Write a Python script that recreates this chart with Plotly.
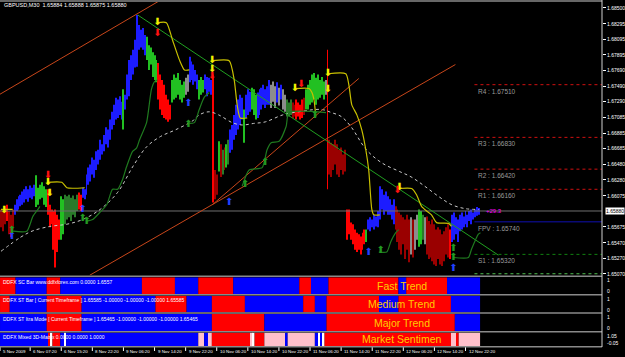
import plotly.graph_objects as go

# ---------------- price bars (GBPUSD M30) ----------------
HIGH = [1.6590,1.6588,1.6593,1.6596,1.6588,1.6583,1.6590,1.6596,1.6603,1.6607,
        1.6609,1.6613,1.6616,1.6620,1.6616,1.6621,1.6618,1.6622,1.6634,1.6618,
        1.6622,1.6625,1.6620,1.6616,1.6616,1.6596,1.6590,1.6588,1.6590,1.6583,
        1.6577,1.6607,1.6603,1.6609,1.6607,1.6609,1.6605,1.6608,1.6603,1.6609,
        1.6612,1.6609,1.6618,1.6616,1.6635,1.6644,1.6648,1.6657,1.6654,1.6665,
        1.6667,1.6680,1.6674,1.6686,1.6696,1.6693,1.6706,1.6716,1.6725,1.6734,
        1.6732,1.6736,1.6729,1.6745,1.6738,1.6764,1.6783,1.6789,1.6796,1.6809,
        1.6841,1.6828,1.6822,1.6824,1.6815,1.6813,1.6802,1.6799,1.6793,1.6789,
        1.6783,1.6779,1.6764,1.6757,1.6751,1.6738,1.6732,1.6725,1.6757,1.6764,
        1.6760,1.6766,1.6757,1.6751,1.6755,1.6760,1.6764,1.6787,1.6781,1.6777,
        1.6770,1.6764,1.6757,1.6761,1.6757,1.6764,1.6761,1.6760,1.6757,1.6764,
        1.6641,1.6635,1.6678,1.6674,1.6667,1.6670,1.6674,1.6680,1.6693,1.6699,
        1.6712,1.6725,1.6732,1.6738,1.6734,1.6719,1.6738,1.6745,1.6742,1.6747,
        1.6745,1.6738,1.6741,1.6745,1.6747,1.6751,1.6745,1.6749,1.6757,1.6751,
        1.6755,1.6749,1.6754,1.6747,1.6751,1.6745,1.6738,1.6732,1.6728,1.6732,
        1.6728,1.6725,1.6732,1.6728,1.6725,1.6732,1.6734,1.6745,1.6751,1.6757,
        1.6764,1.6766,1.6760,1.6764,1.6757,1.6761,1.6755,1.6757,1.6796,1.6680,
        1.6676,1.6674,1.6680,1.6674,1.6667,1.6670,1.6661,1.6667,1.6590,1.6590,
        1.6573,1.6571,1.6564,1.6560,1.6558,1.6555,1.6560,1.6564,1.6564,1.6577,
        1.6580,1.6577,1.6583,1.6581,1.6588,1.6620,1.6616,1.6609,1.6613,1.6607,
        1.6603,1.6596,1.6603,1.6594,1.6590,1.6586,1.6583,1.6580,1.6577,1.6583,
        1.6577,1.6580,1.6577,1.6577,1.6583,1.6590,1.6588,1.6583,1.6580,1.6581,
        1.6575,1.6571,1.6577,1.6571,1.6564,1.6567,1.6564,1.6558,1.6562,1.6567,
        1.6571,1.6564,1.6583,1.6586,1.6580,1.6577,1.6583,1.6586,1.6581,1.6588,
        1.6583,1.6588,1.6590,1.6586,1.6590,1.6593,1.6592]
LOW = [1.6567,1.6562,1.6571,1.6575,1.6558,1.6554,1.6564,1.6583,1.6588,1.6590,
       1.6594,1.6596,1.6599,1.6603,1.6600,1.6605,1.6603,1.6607,1.6593,1.6596,
       1.6603,1.6605,1.6596,1.6593,1.6583,1.6567,1.6571,1.6538,1.6515,1.6535,
       1.6551,1.6551,1.6558,1.6571,1.6577,1.6580,1.6575,1.6583,1.6580,1.6588,
       1.6590,1.6588,1.6605,1.6603,1.6609,1.6622,1.6626,1.6635,1.6631,1.6641,
       1.6648,1.6654,1.6661,1.6665,1.6674,1.6670,1.6680,1.6693,1.6699,1.6706,
       1.6708,1.6712,1.6706,1.6693,1.6719,1.6732,1.6736,1.6757,1.6764,1.6773,
       1.6774,1.6796,1.6799,1.6796,1.6789,1.6783,1.6770,1.6777,1.6761,1.6757,
       1.6754,1.6732,1.6719,1.6712,1.6708,1.6706,1.6703,1.6706,1.6728,1.6732,
       1.6734,1.6738,1.6732,1.6728,1.6734,1.6738,1.6742,1.6754,1.6757,1.6751,
       1.6755,1.6745,1.6732,1.6738,1.6741,1.6745,1.6736,1.6742,1.6738,1.6599,
       1.6603,1.6609,1.6639,1.6632,1.6635,1.6641,1.6644,1.6648,1.6663,1.6667,
       1.6680,1.6686,1.6693,1.6699,1.6706,1.6676,1.6708,1.6712,1.6716,1.6719,
       1.6712,1.6706,1.6708,1.6712,1.6719,1.6725,1.6721,1.6725,1.6725,1.6721,
       1.6729,1.6721,1.6728,1.6724,1.6732,1.6719,1.6716,1.6710,1.6710,1.6712,
       1.6708,1.6710,1.6706,1.6710,1.6706,1.6708,1.6712,1.6719,1.6719,1.6725,
       1.6728,1.6732,1.6725,1.6732,1.6734,1.6738,1.6732,1.6738,1.6616,1.6635,
       1.6632,1.6641,1.6648,1.6635,1.6632,1.6641,1.6635,1.6639,1.6551,1.6558,
       1.6551,1.6545,1.6538,1.6535,1.6538,1.6532,1.6538,1.6545,1.6548,1.6564,
       1.6562,1.6567,1.6564,1.6568,1.6567,1.6577,1.6590,1.6583,1.6588,1.6583,
       1.6583,1.6577,1.6571,1.6564,1.6548,1.6538,1.6532,1.6545,1.6526,1.6538,
       1.6522,1.6532,1.6528,1.6538,1.6551,1.6542,1.6545,1.6551,1.6545,1.6532,
       1.6526,1.6528,1.6523,1.6519,1.6517,1.6526,1.6519,1.6517,1.6523,1.6532,
       1.6528,1.6526,1.6548,1.6551,1.6558,1.6548,1.6562,1.6564,1.6567,1.6571,
       1.6567,1.6575,1.6571,1.6577,1.6580,1.6582,1.6583]
# bar colour codes, run-length: B blue, G green, R red, E dark red, D dark green, S grey
COLOR_RUNS = [("E",3),("R",1),("E",3),("B",11),("G",6),("R",7),("G",2),("D",7),("R",2),("B",21),
              ("G",1),("B",11),("G",6),("R",7),("G",7),("S",2),("B",5),("G",3),("B",4),("R",1),
              ("E",2),("G",1),("E",1),("D",1),("E",1),("G",1),("D",1),("B",7),("G",1),("B",3),
              ("G",3),("B",7),("S",3),("B",1),("S",1),("B",1),("S",2),("D",3),("E",2),("R",4),
              ("E",1),("G",10),("S",1),("R",1),("E",9),("R",10),("G",1),("B",14),("E",8),("S",1),
              ("E",1),("S",2),("G",2),("D",1),("S",1),("E",12),("R",1),("B",15)]
BAR_COLORS = {"B": "#1c1cff", "G": "#22c022", "R": "#ff0000", "E": "#9a0000", "D": "#2a7a2a", "S": "#8c8c8c"}

CLOSE = 1.65880

# ---------------- indicator lines (bar index, price) ----------------
MA_X = [0,10,16,25,34,42,51,60,68,75,82,90,99,102,107,112,119,124,130,136,145,153,165,170,175,180,188,196,205,211,218,225,232,239,246]
MA_Y = [1.6536,1.6554,1.6562,1.6568,1.6571,1.6577,1.6590,1.6612,1.6646,1.6671,1.6684,1.6693,1.6705,1.6712,1.6716,
        1.6712,1.6702,1.6699,1.6701,1.6703,1.6712,1.6716,1.6719,1.6715,1.6710,1.6697,1.6667,1.6650,1.6639,1.6632,
        1.6620,1.6607,1.6596,1.6591,1.6590]
YELLOW_X = [0,6,None, 23.6,31.3,33.9,43.1,None, 80.5,85.1,88.2,91.8,94.4,96.9,None,
            108.7,117.4,120,121.5,123.1,126.7,None, 151.3,158.5,160,161,162,None,
            168.2,177.4,180.5,183.1,185.6,187.7,189.2,190.8,191.8,194.9,None,
            204.6,211.3,213.8,216.4,219,221.5,224.1,230.3,231.8]
YELLOW_Y = [1.6590,1.6590,None, 1.6625,1.6625,1.6618,1.6618,None, 1.6831,1.6831,1.6809,1.6783,1.6770,1.6770,None,
            1.6782,1.6782,1.6757,1.6725,1.6708,1.6708,None, 1.6746,1.6746,1.6741,1.6732,1.6710,None,
            1.6765,1.6765,1.6725,1.6712,1.6693,1.6667,1.6641,1.6590,1.6583,1.6583,None,
            1.6617,1.6617,1.6609,1.6594,1.6588,1.6583,1.6573,1.6572,1.6568]
DGREEN_X = [6.2,13.3,16.4,19,20,None,
            44.1,47.2,50.8,54.4,57.4,60,62.6,64.6,67.7,69.7,71.3,74.9,77.4,79,80.5,None,
            96.9,99.5,102,104.6,107.2,None,
            124.1,127.7,134.4,136.9,139,143.1,146.7,148.2,167.2,None,
            194.4,198.5,200.5,203.1,204.6,None,
            232.8,240.5,242,245.6,246.7]
DGREEN_Y = [1.6562,1.6562,1.6581,1.6590,1.6594,None,
            1.6575,1.6577,1.6586,1.6596,1.6616,1.6616,1.6629,1.6645,1.6665,1.6669,1.6680,1.6702,1.6745,1.6755,1.6757,None,
            1.6701,1.6702,1.6719,1.6735,1.6741,None,
            1.6620,1.6641,1.6644,1.6667,1.6676,1.6678,1.6697,1.6715,1.6715,None,
            1.6535,1.6535,1.6548,1.6560,1.6564,None,
            1.6528,1.6528,1.6538,1.6558,1.6560]
# trend lines: (bar0, price0, bar1, price1)
ORANGE_LINES = [(-1, 1.6738, 82, 1.6860), (45.6, 1.6505, 233.8, 1.6777), (108.7, 1.6596, 184.1, 1.6759)]
GREEN_LINE = (70.3, 1.6841, 255.9, 1.6531)

# ---------------- signal arrows ----------------
YELLOW_DN_X = [1.6, 24.1, 25.1, 80.5, 108.7, 108.7, 151.3, 168.2, 168.2, 205]
YELLOW_DN_Y = [1.6588, 1.6625, 1.6611, 1.6831, 1.6782, 1.6770, 1.6746, 1.6765, 1.6745, 1.6618]
RED_DN_X = [24.1, 80.5, 108.7, 154.4, 204]
RED_DN_Y = [1.6634, 1.6817, 1.6761, 1.6751, 1.6614]
BLUE_UP_X = [5.6, 42, 96.4, 117.4, 189.2, 232.8]
BLUE_UP_Y = [1.6555, 1.6590, 1.6727, 1.6599, 1.6534, 1.6514]
GREEN_UP_X = [5.6, 42, 44.1, 96.4, 125.6, 135.9, 161.5, 195.4, 232.8, 232.8]
GREEN_UP_Y = [1.6563, 1.6578, 1.6575, 1.6699, 1.6622, 1.6650, 1.6711, 1.6537, 1.6540, 1.6528]

# ---------------- pivot levels ----------------
PIVOT_NAMES = ["R4", "R3", "R2", "R1", "FPV", "S1", "S2"]
PIVOT_VALUES = [1.67510, 1.66830, 1.66420, 1.66160, 1.65740, 1.65320, 1.65070]
PIVOT_START = 243.6

# ---------------- axes ----------------
PRICE_TICKS = [1.68500, 1.68295, 1.68095, 1.67895, 1.67690, 1.67490, 1.67290, 1.67085, 1.66885,
               1.66685, 1.66480, 1.66280, 1.66075, 1.65675, 1.65470, 1.65270, 1.65070]
TIME_TICKS = [-0.5, 15, 31, 47, 63, 79, 95, 111, 127, 143, 159, 175, 191, 207, 223, 239]
TIME_LABELS = ["5 Nov 2009", "6 Nov 07:20", "6 Nov 15:20", "8 Nov 22:20", "9 Nov 06:20", "9 Nov 14:20",
               "9 Nov 22:20", "10 Nov 06:20", "10 Nov 14:20", "10 Nov 22:20", "11 Nov 06:20", "11 Nov 14:20",
               "11 Nov 22:20", "12 Nov 06:20", "12 Nov 14:20", "12 Nov 22:20"]

# ---------------- indicator panels (run-length per bar) ----------------
PANEL_FAST = [("R",8),("B",16),("R",7),("B",42),("R",17),("B",12),("R",18),("B",34),("R",6),("B",9),("R",36),("B",4),("R",21),("B",17)]
PANEL_MEDIUM = [("R",5),("B",19),("R",18),("B",38),("R",16),("B",13),("R",17),("B",30),("R",6),("B",6),("R",27),("B",10),("R",27),("B",15)]
PANEL_MAJOR = [("B",24),("R",18),("B",67),("R",27),("B",32),("R",66),("B",13)]
PANEL_SENTIMENT = [("B",25),("R",1),("W",1),("R",4),("B",2),("W",1),("B",68),("P",3),("B",2),("P",2),("R",20),("P",1),("W",1),
                   ("R",5),("P",11),("B",1),("P",14),("B",2),("W",1),("B",1),("W",1),("R",65),("P",3),("R",1),("P",11)]
PANEL_COLORS = {"R": "#ff0000", "B": "#0000ff", "P": "#ffc0cb", "W": "#ffffff"}
PANEL_TITLES = ["DDFX SC Bar www.ddfxforex.com 0.0000 1.6557",
                "DDFX ST Bar [ Current Timeframe ] 1.65585 -1.00000 -1.00000 -1.00000 1.65585",
                "DDFX ST Itra Mode [ Current Timeframe ] 1.65465 -1.00000 -1.00000 -1.00000 1.65465",
                "DDFX Mixed 3D-Matrix 0.0000 0.0000 1.0000"]
PANEL_NAMES = ["Fast Trend", "Medium Trend", "Major Trend", "Market Sentimen"]
PANEL_SCALE = [("1", "0"), ("1", "0"), ("1", "0"), ("1.05", "-0.05")]

W, H = 625, 357
PLOT_W = 604
def py(px):  # paper y from pixel row
    return 1 - px / H

MAIN_DOM = [py(276), py(2)]
PANEL_DOMS = [[py(295), py(278)], [py(313.5), py(296.5)], [py(332), py(315)], [py(347), py(333.5)]]
PANEL_AXES = ["y2", "y3", "y4", "y5"]

codes = "".join(c * n for c, n in COLOR_RUNS)
N = len(HIGH)
assert len(LOW) == N and len(codes) == N

fig = go.Figure()
FONT = "Liberation Sans"
XMIN, XMAX = -0.513, 309.23

# current price line
fig.add_trace(go.Scatter(x=[XMIN, XMAX], y=[CLOSE, CLOSE], mode="lines",
                         line=dict(color="#707070", width=1), showlegend=False, hoverinfo="skip"))
# pivots
for name, v in zip(PIVOT_NAMES, PIVOT_VALUES):
    if name.startswith("R"):
        ln = dict(color="#d01010", width=1, dash="dot")
    elif name == "FPV":
        ln = dict(color="#1010b0", width=1)
    elif name == "S1":
        ln = dict(color="#108010", width=1, dash="dot")
    else:
        ln = dict(color="#50c050", width=1, dash="dot")
    fig.add_trace(go.Scatter(x=[PIVOT_START, XMAX], y=[v, v], mode="lines", line=ln,
                             showlegend=False, hoverinfo="skip"))

for c, col in BAR_COLORS.items():
    idx = [i for i in range(N) if codes[i] == c]
    fig.add_trace(go.Bar(x=idx, base=[LOW[i] for i in idx], y=[HIGH[i] - LOW[i] for i in idx],
                         width=0.5, marker=dict(color=col, line=dict(width=0)),
                         xaxis="x", yaxis="y", showlegend=False, hoverinfo="skip"))

# moving average (dotted)
fig.add_trace(go.Scatter(x=MA_X, y=MA_Y, mode="lines", line=dict(color="#c8c8c8", width=1, dash="dot", shape="spline"),
                         showlegend=False, hoverinfo="skip"))
# trend lines
for (x0, y0, x1, y1) in ORANGE_LINES:
    fig.add_trace(go.Scatter(x=[x0, x1], y=[y0, y1], mode="lines", line=dict(color="#c8461a", width=1),
                             showlegend=False, hoverinfo="skip"))
fig.add_trace(go.Scatter(x=[GREEN_LINE[0], GREEN_LINE[2]], y=[GREEN_LINE[1], GREEN_LINE[3]], mode="lines",
                         line=dict(color="#20a020", width=1), showlegend=False, hoverinfo="skip"))
# stop lines
fig.add_trace(go.Scatter(x=YELLOW_X, y=YELLOW_Y, mode="lines", line=dict(color="#c8c000", width=1.2, shape="spline", smoothing=0.6),
                         connectgaps=False, showlegend=False, hoverinfo="skip"))
fig.add_trace(go.Scatter(x=DGREEN_X, y=DGREEN_Y, mode="lines", line=dict(color="#1f7a1f", width=1.2, shape="spline", smoothing=0.6),
                         connectgaps=False, showlegend=False, hoverinfo="skip"))

# arrows
for xs, ys, ch, col in [(YELLOW_DN_X, YELLOW_DN_Y, "⬇", "#f0f000"), (RED_DN_X, RED_DN_Y, "⬇", "#ff1010"),
                        (BLUE_UP_X, BLUE_UP_Y, "⬆", "#2040ff"), (GREEN_UP_X, GREEN_UP_Y, "⬆", "#229922")]:
    fig.add_trace(go.Scatter(x=xs, y=ys, mode="text", text=[ch] * len(xs),
                             textfont=dict(color=col, size=10, family="DejaVu Sans"),
                             showlegend=False, hoverinfo="skip"))

# indicator panels
for ax, runs in zip(PANEL_AXES, [PANEL_FAST, PANEL_MEDIUM, PANEL_MAJOR, PANEL_SENTIMENT]):
    start = 0
    xs, ws, cs = [], [], []
    for c, n in runs:
        xs.append(start - 0.5 + n / 2)
        ws.append(n)
        cs.append(PANEL_COLORS[c])
        start += n
    assert start == N
    fig.add_trace(go.Bar(x=xs, y=[1] * len(xs), base=0, width=ws,
                         marker=dict(color=cs, line=dict(width=0)),
                         xaxis="x", yaxis=ax, showlegend=False, hoverinfo="skip"))

annotations = []
shapes = []
# title
annotations.append(dict(xref="paper", yref="paper", x=0, xshift=2, y=py(5), xanchor="left", yanchor="middle",
                        text="GBPUSD,M30  1.65884 1.65888 1.65875 1.65880", showarrow=False,
                        font=dict(color="white", size=5.5, family=FONT)))
# pivot labels
for name, v in zip(PIVOT_NAMES[:-1], PIVOT_VALUES[:-1]):
    annotations.append(dict(xref="x", yref="y", x=PIVOT_START + 0.6, y=v, xanchor="left", yanchor="top", yshift=-1,
                            text=f"{name} : {v:.5f}", showarrow=False,
                            font=dict(color="#9a9a9a", size=6.5, family=FONT)))
annotations.append(dict(xref="x", yref="y", x=PIVOT_START + 5, y=CLOSE, xanchor="left", yanchor="middle",
                        text="+29.3", showarrow=False, font=dict(color="#ff00ff", size=6, family=FONT)))
# current price box on axis
annotations.append(dict(xref="paper", yref="y", x=1, xshift=3, y=CLOSE, xanchor="left", yanchor="middle",
                        text=f"{CLOSE:.5f}", showarrow=False, bgcolor="white", borderpad=0,
                        font=dict(color="black", size=5, family=FONT)))
# panel texts
for (d0, d1), title, name, (top, bot) in zip(PANEL_DOMS, PANEL_TITLES, PANEL_NAMES, PANEL_SCALE):
    annotations.append(dict(xref="paper", yref="paper", x=0, xshift=1, y=d1, yshift=-4.5, xanchor="left", yanchor="middle",
                            text=title, showarrow=False, font=dict(color="white", size=5, family=FONT)))
    annotations.append(dict(xref="paper", yref="paper", x=0.667, y=(d0 + d1) / 2, xanchor="center", yanchor="middle",
                            text=name, showarrow=False, font=dict(color="#ffcc00", size=10.5, family=FONT)))
    annotations.append(dict(xref="paper", yref="paper", x=1, xshift=3, y=d1, yshift=-3, xanchor="left", yanchor="middle",
                            text=top, showarrow=False, font=dict(color="white", size=5, family=FONT)))
    annotations.append(dict(xref="paper", yref="paper", x=1, xshift=3, y=d0, yshift=3, xanchor="left", yanchor="middle",
                            text=bot, showarrow=False, font=dict(color="white", size=5, family=FONT)))
# time labels
for t, lab in zip(TIME_TICKS, TIME_LABELS):
    annotations.append(dict(xref="x", yref="paper", x=t, xshift=1, y=py(352.5), xanchor="left", yanchor="middle",
                            text=lab, showarrow=False, font=dict(color="white", size=4.4, family=FONT)))
    shapes.append(dict(type="line", xref="x", yref="paper", x0=t, x1=t, y0=py(348), y1=py(352),
                       line=dict(color="white", width=1)))

# separators and axis line
for rowpx in [1, 277, 295.7, 314, 332.7, 347.7]:
    shapes.append(dict(type="line", xref="paper", yref="paper", x0=0, x1=1, y0=py(rowpx), y1=py(rowpx),
                       line=dict(color="#8a8a8a", width=1.5)))
shapes.append(dict(type="line", xref="paper", yref="paper", x0=1, x1=1, y0=py(348), y1=py(0),
                   line=dict(color="#d0d0d0", width=1)))

layout = dict(
    width=W, height=H, margin=dict(l=0, r=W - PLOT_W, t=0, b=0),
    paper_bgcolor="black", plot_bgcolor="black", barmode="overlay", showlegend=False,
    xaxis=dict(range=[XMIN, XMAX], visible=False, fixedrange=True),
    yaxis=dict(domain=MAIN_DOM, range=[1.65051, 1.68577], side="right", anchor="x",
               tickvals=PRICE_TICKS, ticktext=[f"{v:.5f}" for v in PRICE_TICKS],
               ticks="outside", ticklen=3, tickcolor="white", tickfont=dict(color="white", size=5, family=FONT),
               showgrid=False, zeroline=False, showline=False),
    annotations=annotations, shapes=shapes,
)
for ax, dom in zip(PANEL_AXES, PANEL_DOMS):
    layout["yaxis" + ax[1:]] = dict(domain=dom, range=[0, 1], visible=False, anchor="x")
fig.update_layout(**layout)

fig.write_html("out.html")
